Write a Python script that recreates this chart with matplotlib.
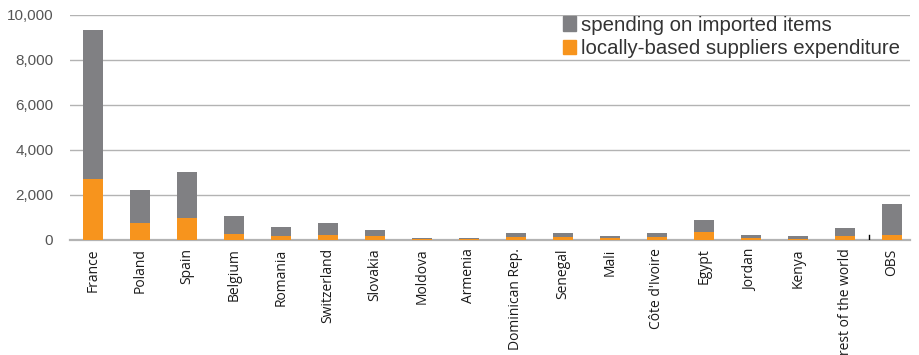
import matplotlib.pyplot as plt
import numpy as np
from matplotlib.patches import Patch

countries = ["France", "Poland", "Spain", "Belgium", "Romania", "Switzerland",
             "Slovakia", "Moldova", "Armenia", "Dominican Rep.", "Senegal", "Mali",
             "Côte d'Ivoire", "Egypt", "Jordan", "Kenya", "rest of the world", "OBS"]
local_spend = [2710, 770, 990, 280, 190, 220, 160, 50, 40, 140, 140, 90,
               140, 340, 80, 60, 170, 220]
total_spend = [9330, 2220, 3020, 1070, 580, 740, 430, 110, 70, 330, 290, 170,
               290, 870, 200, 170, 520, 1580]
imported_spend = [t - l for t, l in zip(total_spend, local_spend)]

orange = "#f7941d"
grey = "#808083"
grid_col = "#b3b3b3"

fig = plt.figure(figsize=(9.2, 3.55), dpi=100)
ax = fig.add_axes([0.076, 0.324, 0.913, 0.634])

x = np.arange(len(countries))
ax.bar(x, local_spend, width=0.41, color=orange, zorder=3)
ax.bar(x, imported_spend, width=0.41, bottom=local_spend, color=grey, zorder=3)

# small separator before OBS
ax.plot([16.5, 16.5], [0, 230], color="black", lw=1, zorder=4)

ax.set_ylim(0, 10000)
ax.set_xlim(-0.49, 17.38)
ax.set_yticks(np.arange(0, 10001, 2000))
ax.set_yticklabels([f"{v:,}" for v in range(0, 10001, 2000)],
                   family="Liberation Sans", fontsize=11, color="#555555")
ax.yaxis.grid(True, color=grid_col, lw=1)
ax.set_axisbelow(True)
ax.tick_params(axis="y", length=0, pad=12)
ax.tick_params(axis="x", length=0, pad=6)
ax.set_xticks(x)
ax.set_xticklabels(countries, rotation=90, family="Open Sans", fontsize=10,
                   color="#1a1a1a", va="top")

for s in ["top", "right", "left"]:
    ax.spines[s].set_visible(False)
ax.spines["bottom"].set_color(grid_col)
ax.spines["bottom"].set_linewidth(1.6)

handles = [Patch(color=grey, label="spending on imported items"),
           Patch(color=orange, label="locally-based suppliers expenditure")]
ax.legend(handles=handles, loc="upper right", bbox_to_anchor=(0.988, 0.995),
          frameon=False, prop={"family": "Liberation Sans", "size": 14.7},
          labelcolor="#333333", handlelength=0.64, handleheight=0.74,
          handletextpad=0.25, labelspacing=0.2, borderaxespad=0.0, borderpad=0.0)

fig.savefig("out.png", dpi=100)
